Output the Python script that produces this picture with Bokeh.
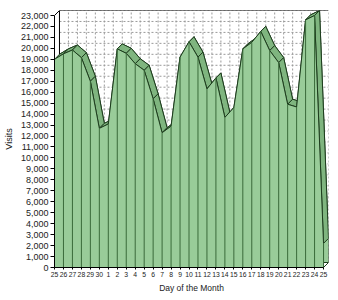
from bokeh.plotting import figure
from bokeh.models import Range1d, FixedTicker, NumeralTickFormatter
from bokeh.embed import file_html
from bokeh.resources import INLINE

# ---- data ----
day_labels = ["25", "26", "27", "28", "29", "30"] + [str(d) for d in range(1, 26)]
visits = [19000, 19500, 19850, 19150, 17000, 12700, 13100, 19950, 19550, 18600,
          18000, 15400, 12300, 12900, 19200, 20600, 19200, 16300, 17300, 13700,
          14600, 19950, 20550, 21550, 19800, 18700, 14900, 14650, 22600, 23000, 2200]
y_ticks = list(range(0, 23001, 1000))

# ---- geometry (3D depth expressed in data units) ----
n = len(visits)
xs = list(range(n))
FRAME_W, FRAME_H = 275, 257
DEPTH_PX = 5
XMAX = FRAME_W / 9.0
DX = XMAX - (n - 1)
YTOP = y_ticks[-1]
YMAX = FRAME_H * YTOP / (FRAME_H - DEPTH_PX)
DY = YMAX - YTOP

FILL = "#99cc99"
TOPFILL = "#7fb57f"
EDGE = "#1e3d1e"
VLINE = "#3a6a3a"

p = figure(width=338, height=300, output_backend="svg", toolbar_location=None,
           x_range=Range1d(0, XMAX), y_range=Range1d(0, YMAX),
           min_border_left=53, min_border_right=10, min_border_top=10,
           min_border_bottom=33)
p.outline_line_color = None
p.xgrid.visible = False
p.ygrid.visible = False
p.background_fill_color = "white"

# back wall grid (dashed)
p.segment(x0=[DX] * len(y_ticks), y0=[t + DY for t in y_ticks],
          x1=[XMAX] * len(y_ticks), y1=[t + DY for t in y_ticks],
          line_color="#9a9a9a", line_dash="2 2", line_width=1)
p.segment(x0=[x + DX for x in xs], y0=[DY] * n,
          x1=[x + DX for x in xs], y1=[YMAX] * n,
          line_color="#9a9a9a", line_dash="2 2", line_width=1)
# back wall solid borders
p.line(x=[DX, DX, XMAX], y=[DY, YMAX, YMAX], line_color="black", line_width=1)
# left wall top diagonal
p.line(x=[0, DX], y=[YTOP, YMAX], line_color="black", line_width=1)

# back area
bx = [DX] + [x + DX for x in xs] + [xs[-1] + DX]
by = [DY] + [v + DY for v in visits] + [DY]
p.patch(bx, by, fill_color=FILL, line_color=EDGE, line_width=1)

# top faces
qx, qy = [], []
for i in range(n - 1):
    x0, x1 = xs[i], xs[i + 1]
    y0, y1 = visits[i], visits[i + 1]
    qx.append([x0, x1, x1 + DX, x0 + DX])
    qy.append([y0, y1, y1 + DY, y0 + DY])
p.patches(qx, qy, fill_color=TOPFILL, line_color=EDGE, line_width=1)

# front area
fx = [xs[0]] + xs + [xs[-1]]
fy = [0] + visits + [0]
p.patch(fx, fy, fill_color=FILL, line_color=EDGE, line_width=1)
p.segment(x0=xs, y0=[0] * n, x1=xs, y1=visits, line_color=VLINE, line_width=1)
# floor right corner
p.line(x=[xs[-1], xs[-1] + DX], y=[0, DY], line_color=EDGE, line_width=1)

FONT = "Liberation Sans"
# y axis
ya = p.yaxis[0]
ya.ticker = FixedTicker(ticks=y_ticks)
ya.formatter = NumeralTickFormatter(format="0,0")
ya.bounds = (0, YTOP)
ya.axis_label = "Visits"
ya.major_tick_out = 4
ya.major_tick_in = 0
ya.minor_tick_out = 0
ya.minor_tick_in = 0
ya.major_label_standoff = 2
ya.axis_label_standoff = 4
ya.major_label_text_font = FONT
ya.major_label_text_font_size = "9px"
ya.major_label_text_color = "#222222"
ya.axis_label_text_font = FONT
ya.axis_label_text_font_size = "9px"
ya.axis_label_text_font_style = "normal"
ya.axis_label_text_color = "#222222"
ya.axis_line_color = "black"

# x axis
xa = p.xaxis[0]
xa.ticker = FixedTicker(ticks=xs)
xa.major_label_overrides = {i: lab for i, lab in enumerate(day_labels)}
xa.bounds = (0, xs[-1])
xa.axis_label = "Day of the Month"
xa.major_tick_out = 2
xa.major_tick_in = 0
xa.minor_tick_out = 0
xa.minor_tick_in = 0
xa.major_label_standoff = 2
xa.axis_label_standoff = 3
xa.major_label_text_font = FONT
xa.major_label_text_font_size = "6.8px"
xa.major_label_text_color = "#222222"
xa.axis_label_text_font = FONT
xa.axis_label_text_font_size = "8.5px"
xa.axis_label_text_font_style = "normal"
xa.axis_label_text_color = "#222222"
xa.axis_line_color = "black"

open("out.html", "w").write(file_html(p, INLINE))
